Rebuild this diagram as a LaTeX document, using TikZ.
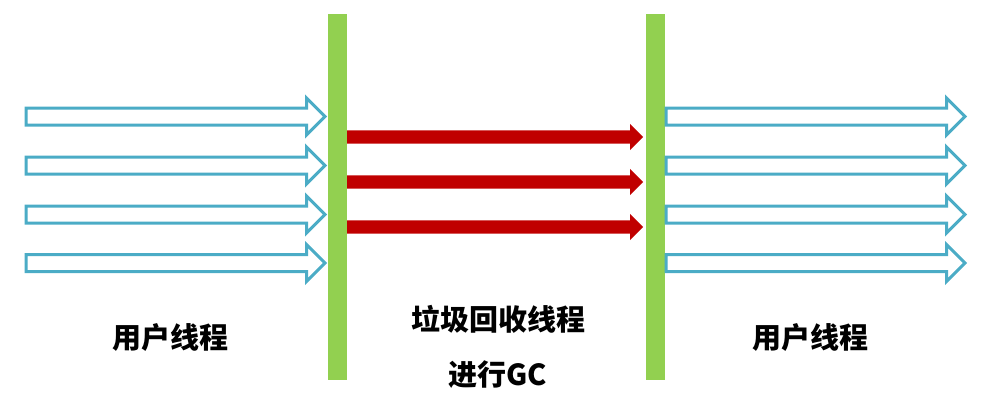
\documentclass[tikz,border=0pt]{standalone}
\usepackage{fontspec}
\newfontfamily\cjk{Noto Sans CJK SC}
\usetikzlibrary{positioning,shapes}

\definecolor{barGreen}{HTML}{92D050}
\definecolor{userBlue}{HTML}{4BACC6}
\definecolor{gcRed}{HTML}{C00000}

\begin{document}
\begin{tikzpicture}[x=1pt,y=-1pt,
  greenbar/.style={rectangle, fill=barGreen, inner sep=0, minimum width=19pt, minimum height=366pt},
  userarrow/.style={single arrow, anchor=tail, draw=userBlue, line width=3pt, fill=white, inner xsep=0, inner ysep=7pt,
    single arrow head extend=10pt, minimum height=299pt},
  gcarrow/.style={single arrow, anchor=tail, fill=gcRed, inner xsep=0, inner ysep=6.5pt,
    single arrow head extend=6.5pt, minimum height=296pt},
  threadtext/.style={font=\cjk\bfseries\fontsize{29}{34}\selectfont, inner sep=0}]
\useasboundingbox (0,0) rectangle (995,412);
% safepoint bars
\node[greenbar] (barL) at (337.5,197) {};
\node[greenbar] (barR) at (655.5,197) {};
% user threads before the pause
\node[userarrow] (userL1) at (24.5,116.5) {};
\node[userarrow] (userL2) at (24.5,165.5) {};
\node[userarrow] (userL3) at (24.5,214.5) {};
\node[userarrow] (userL4) at (24.5,263) {};
% gc threads
\node[gcarrow] (gc1) at (347,137) {};
\node[gcarrow] (gc2) at (347,182) {};
\node[gcarrow] (gc3) at (347,227) {};
% user threads after the pause
\node[userarrow] (userR1) at (664.5,116.5) {};
\node[userarrow] (userR2) at (664.5,165.5) {};
\node[userarrow] (userR3) at (664.5,214.5) {};
\node[userarrow] (userR4) at (664.5,263) {};
% labels
\node[threadtext] (userTextL) at (170.5,338) {用户线程};
\node[threadtext] (gcText) at (498,319) {垃圾回收线程};
\node[threadtext] (gcDo) at (498,375) {进行GC};
\node[threadtext] (userTextR) at (810,338) {用户线程};
\end{tikzpicture}
\end{document}
